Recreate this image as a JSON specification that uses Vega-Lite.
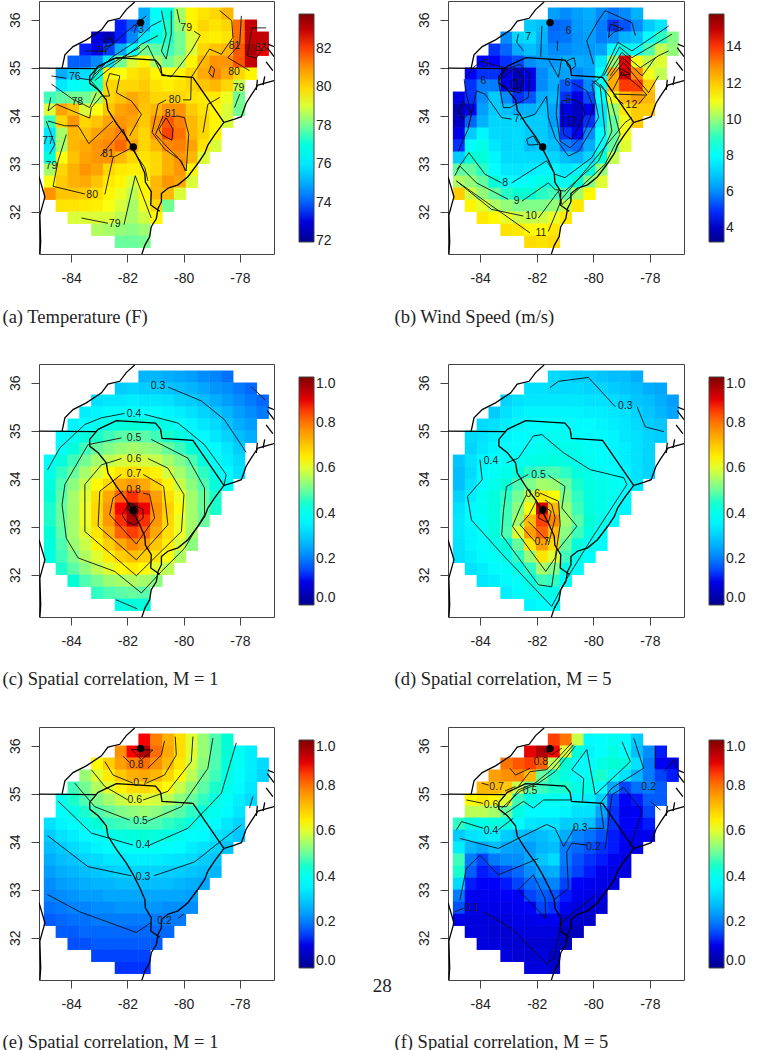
{"$schema":"https://vega.github.io/schema/vega-lite/v6.json","background":"white","padding":{"left":1,"top":0,"right":0,"bottom":0},
"config":{"view":{"stroke":"#444","strokeWidth":1},"axis":{"grid":false,"domain":false,"tickColor":"#444","tickSize":8,"labelColor":"#222","labelFont":"Liberation Sans","labelFontSize":14,"labelPadding":9,"titleFont":"Liberation Serif","titleFontSize":18.5,"titleFontWeight":"normal","titleColor":"#222","titleAlign":"left","titleBaseline":"middle"},"legend":{"labelFont":"Liberation Sans","labelFontSize":14,"labelColor":"#222","gradientStrokeColor":"#444","gradientStrokeWidth":1,"gradientLength":228,"gradientThickness":15,"title":null,"orient":"none","legendY":13,"labelOffset":11,"labelOverlap":false},"text":{"font":"Liberation Sans","fontSize":10.5,"color":"#222"}},
"resolve":{"scale":{"color":"independent"},"legend":{"color":"independent"}},
"datasets":{
"grid":[
{"x":-81.39,"y":36.125,"a":75,"b":6.3,"c":0.27,"d":0.32,"e":0.88,"f":0.85},{"x":-80.97,"y":36.125,"a":76.5,"b":6,"c":0.27,"d":0.31,"e":0.79,"f":0.8},{"x":-80.55,"y":36.125,"a":77,"b":6.3,"c":0.26,"d":0.3,"e":0.73,"f":0.58},{"x":-80.13,"y":36.125,"a":78.5,"b":6.5,"c":0.25,"d":0.3,"e":0.67,"f":0.37},{"x":-79.71,"y":36.125,"a":79.5,"b":6,"c":0.24,"d":0.29,"e":0.6,"f":0.38},{"x":-79.29,"y":36.125,"a":79.8,"b":5.7,"c":0.22,"d":0.28,"e":0.54,"f":0.4},{"x":-78.87,"y":36.125,"a":80,"b":6,"c":0.21,"d":0.28,"e":0.48,"f":0.37},{"x":-78.45,"y":36.125,"a":80.5,"b":6.6,"c":0.19,"d":0.26,"e":0.44,"f":0.3},
{"x":-82.23,"y":35.875,"a":73.5,"b":7,"c":0.3,"d":0.33,"e":0.77,"f":0.9},{"x":-81.81,"y":35.875,"a":74,"b":6.8,"c":0.31,"d":0.33,"e":0.88,"f":0.95},{"x":-81.39,"y":35.875,"a":75,"b":5.5,"c":0.3,"d":0.32,"e":0.95,"f":0.88},{"x":-80.97,"y":35.875,"a":76.5,"b":5.6,"c":0.3,"d":0.32,"e":0.81,"f":0.6},{"x":-80.55,"y":35.875,"a":77.3,"b":6.2,"c":0.29,"d":0.32,"e":0.74,"f":0.43},{"x":-80.13,"y":35.875,"a":78.3,"b":6.4,"c":0.28,"d":0.31,"e":0.67,"f":0.36},{"x":-79.71,"y":35.875,"a":79.5,"b":5.8,"c":0.27,"d":0.31,"e":0.6,"f":0.38},{"x":-79.29,"y":35.875,"a":80,"b":5,"c":0.25,"d":0.3,"e":0.54,"f":0.42},{"x":-78.87,"y":35.875,"a":79.8,"b":5.3,"c":0.23,"d":0.29,"e":0.48,"f":0.38},{"x":-78.45,"y":35.875,"a":80,"b":6,"c":0.22,"d":0.28,"e":0.44,"f":0.28},{"x":-78.03,"y":35.875,"a":81.5,"b":7,"c":0.2,"d":0.26,"e":0.39,"f":0.22},{"x":-77.61,"y":35.875,"a":83,"b":7.5,"c":0.18,"d":0.25,"e":0.35,"f":0.13},
{"x":-83.07,"y":35.625,"a":73,"b":6,"c":0.33,"d":0.31,"e":0.63,"f":0.8},{"x":-82.65,"y":35.625,"a":72.5,"b":7.2,"c":0.34,"d":0.33,"e":0.69,"f":0.83},{"x":-82.23,"y":35.625,"a":73.5,"b":7.3,"c":0.34,"d":0.34,"e":0.75,"f":0.85},{"x":-81.81,"y":35.625,"a":74.5,"b":6.6,"c":0.35,"d":0.34,"e":0.79,"f":0.82},{"x":-81.39,"y":35.625,"a":76,"b":5.6,"c":0.34,"d":0.34,"e":0.81,"f":0.57},{"x":-80.97,"y":35.625,"a":77,"b":5.7,"c":0.34,"d":0.34,"e":0.77,"f":0.44},{"x":-80.55,"y":35.625,"a":77.3,"b":6.1,"c":0.33,"d":0.34,"e":0.72,"f":0.38},{"x":-80.13,"y":35.625,"a":78,"b":6.3,"c":0.31,"d":0.33,"e":0.66,"f":0.37},{"x":-79.71,"y":35.625,"a":79,"b":5.8,"c":0.3,"d":0.33,"e":0.59,"f":0.42},{"x":-79.29,"y":35.625,"a":79.7,"b":6,"c":0.28,"d":0.32,"e":0.53,"f":0.44},{"x":-78.87,"y":35.625,"a":79.6,"b":6.6,"c":0.26,"d":0.31,"e":0.48,"f":0.43},{"x":-78.45,"y":35.625,"a":79.8,"b":6.8,"c":0.24,"d":0.29,"e":0.43,"f":0.33},{"x":-78.03,"y":35.625,"a":81.5,"b":8,"c":0.22,"d":0.28,"e":0.39,"f":0.2},{"x":-77.61,"y":35.625,"a":83,"b":9,"c":0.2,"d":0.26,"e":0.35,"f":0.12},{"x":-77.19,"y":35.625,"a":83,"b":9.8,"c":0.18,"d":0.24,"e":0.32,"f":0.1},
{"x":-83.49,"y":35.375,"a":73.5,"b":5,"c":0.35,"d":0.3,"e":0.54,"f":0.75},{"x":-83.07,"y":35.375,"a":73.3,"b":5.5,"c":0.36,"d":0.33,"e":0.6,"f":0.77},{"x":-82.65,"y":35.375,"a":73.7,"b":6.5,"c":0.38,"d":0.35,"e":0.65,"f":0.78},{"x":-82.23,"y":35.375,"a":75,"b":6.8,"c":0.38,"d":0.36,"e":0.7,"f":0.72},{"x":-81.81,"y":35.375,"a":76.5,"b":6.4,"c":0.39,"d":0.36,"e":0.73,"f":0.5},{"x":-81.39,"y":35.375,"a":78,"b":6,"c":0.38,"d":0.36,"e":0.74,"f":0.45},{"x":-80.97,"y":35.375,"a":77.8,"b":6,"c":0.38,"d":0.36,"e":0.72,"f":0.42},{"x":-80.55,"y":35.375,"a":77.5,"b":6.2,"c":0.36,"d":0.36,"e":0.68,"f":0.38},{"x":-80.13,"y":35.375,"a":78,"b":6.2,"c":0.35,"d":0.35,"e":0.63,"f":0.4},{"x":-79.71,"y":35.375,"a":79,"b":6.3,"c":0.33,"d":0.35,"e":0.57,"f":0.45},{"x":-79.29,"y":35.375,"a":80,"b":8,"c":0.31,"d":0.34,"e":0.51,"f":0.4},{"x":-78.87,"y":35.375,"a":80.3,"b":8.5,"c":0.29,"d":0.33,"e":0.47,"f":0.33},{"x":-78.45,"y":35.375,"a":80.5,"b":8,"c":0.27,"d":0.31,"e":0.42,"f":0.27},{"x":-78.03,"y":35.375,"a":81.8,"b":9.3,"c":0.24,"d":0.29,"e":0.38,"f":0.2},{"x":-77.61,"y":35.375,"a":83.3,"b":10.5,"c":0.22,"d":0.27,"e":0.35,"f":0.15},{"x":-77.19,"y":35.375,"a":82.5,"b":10,"c":0.2,"d":0.25,"e":0.31,"f":0.13},
{"x":-83.91,"y":35.125,"a":74,"b":4.8,"c":0.36,"d":0.32,"e":0.47,"f":0.72},{"x":-83.49,"y":35.125,"a":74,"b":4.8,"c":0.38,"d":0.33,"e":0.51,"f":0.72},{"x":-83.07,"y":35.125,"a":74.5,"b":5,"c":0.4,"d":0.35,"e":0.56,"f":0.7},{"x":-82.65,"y":35.125,"a":76,"b":5.2,"c":0.42,"d":0.36,"e":0.6,"f":0.58},{"x":-82.23,"y":35.125,"a":78,"b":6,"c":0.43,"d":0.37,"e":0.64,"f":0.5},{"x":-81.81,"y":35.125,"a":79,"b":6.3,"c":0.44,"d":0.38,"e":0.67,"f":0.47},{"x":-81.39,"y":35.125,"a":79.5,"b":6.2,"c":0.43,"d":0.38,"e":0.68,"f":0.45},{"x":-80.97,"y":35.125,"a":78.5,"b":6.5,"c":0.42,"d":0.38,"e":0.66,"f":0.45},{"x":-80.55,"y":35.125,"a":78,"b":6.5,"c":0.41,"d":0.37,"e":0.63,"f":0.42},{"x":-80.13,"y":35.125,"a":78.5,"b":6.4,"c":0.39,"d":0.37,"e":0.58,"f":0.42},{"x":-79.71,"y":35.125,"a":79.5,"b":7.5,"c":0.36,"d":0.36,"e":0.53,"f":0.38},{"x":-79.29,"y":35.125,"a":80.5,"b":10,"c":0.34,"d":0.35,"e":0.49,"f":0.25},{"x":-78.87,"y":35.125,"a":81,"b":14.5,"c":0.32,"d":0.34,"e":0.45,"f":0.15},{"x":-78.45,"y":35.125,"a":81,"b":11,"c":0.29,"d":0.32,"e":0.41,"f":0.19},{"x":-78.03,"y":35.125,"a":81.8,"b":10.5,"c":0.26,"d":0.3,"e":0.37,"f":0.2},{"x":-77.61,"y":35.125,"a":83,"b":10.8,"c":0.24,"d":0.29,"e":0.34,"f":0.17},
{"x":-84.33,"y":34.875,"a":75,"b":4.8,"c":0.37,"d":0.32,"e":0.4,"f":0.63},{"x":-83.91,"y":34.875,"a":75.5,"b":5,"c":0.4,"d":0.33,"e":0.45,"f":0.65},{"x":-83.49,"y":34.875,"a":75.8,"b":5,"c":0.43,"d":0.35,"e":0.48,"f":0.63},{"x":-83.07,"y":34.875,"a":77,"b":4.5,"c":0.45,"d":0.36,"e":0.52,"f":0.6},{"x":-82.65,"y":34.875,"a":79.5,"b":3.8,"c":0.47,"d":0.37,"e":0.55,"f":0.47},{"x":-82.23,"y":34.875,"a":79.3,"b":4.5,"c":0.49,"d":0.38,"e":0.58,"f":0.42},{"x":-81.81,"y":34.875,"a":79.8,"b":6,"c":0.49,"d":0.39,"e":0.6,"f":0.4},{"x":-81.39,"y":34.875,"a":80,"b":6.5,"c":0.49,"d":0.4,"e":0.6,"f":0.4},{"x":-80.97,"y":34.875,"a":79.5,"b":6.3,"c":0.47,"d":0.4,"e":0.59,"f":0.38},{"x":-80.55,"y":34.875,"a":79.3,"b":6,"c":0.45,"d":0.39,"e":0.57,"f":0.36},{"x":-80.13,"y":34.875,"a":79.5,"b":6.3,"c":0.43,"d":0.38,"e":0.53,"f":0.35},{"x":-79.71,"y":34.875,"a":80,"b":8,"c":0.4,"d":0.37,"e":0.5,"f":0.3},{"x":-79.29,"y":34.875,"a":80.7,"b":12.5,"c":0.37,"d":0.36,"e":0.46,"f":0.15},{"x":-78.87,"y":34.875,"a":81.2,"b":14.8,"c":0.34,"d":0.34,"e":0.42,"f":0.12},{"x":-78.45,"y":34.875,"a":80.7,"b":13,"c":0.31,"d":0.33,"e":0.39,"f":0.13},{"x":-78.03,"y":34.875,"a":80,"b":11,"c":0.28,"d":0.31,"e":0.35,"f":0.17},{"x":-77.61,"y":34.875,"a":79.5,"b":10.5,"c":0.26,"d":0.3,"e":0.32,"f":0.17},
{"x":-84.33,"y":34.625,"a":76,"b":5,"c":0.39,"d":0.31,"e":0.38,"f":0.57},{"x":-83.91,"y":34.625,"a":76.5,"b":5.8,"c":0.43,"d":0.34,"e":0.41,"f":0.57},{"x":-83.49,"y":34.625,"a":76.8,"b":5.8,"c":0.47,"d":0.36,"e":0.45,"f":0.55},{"x":-83.07,"y":34.625,"a":77.3,"b":4.7,"c":0.5,"d":0.37,"e":0.48,"f":0.5},{"x":-82.65,"y":34.625,"a":80,"b":3.8,"c":0.52,"d":0.38,"e":0.5,"f":0.42},{"x":-82.23,"y":34.625,"a":80,"b":4.5,"c":0.54,"d":0.39,"e":0.52,"f":0.37},{"x":-81.81,"y":34.625,"a":80,"b":6,"c":0.55,"d":0.4,"e":0.53,"f":0.37},{"x":-81.39,"y":34.625,"a":80.2,"b":6.5,"c":0.54,"d":0.41,"e":0.54,"f":0.37},{"x":-80.97,"y":34.625,"a":79.8,"b":5.4,"c":0.53,"d":0.41,"e":0.53,"f":0.36},{"x":-80.55,"y":34.625,"a":79.6,"b":5,"c":0.5,"d":0.41,"e":0.51,"f":0.33},{"x":-80.13,"y":34.625,"a":79.8,"b":6,"c":0.47,"d":0.39,"e":0.49,"f":0.33},{"x":-79.71,"y":34.625,"a":80,"b":8.2,"c":0.44,"d":0.38,"e":0.46,"f":0.25},{"x":-79.29,"y":34.625,"a":80.3,"b":12.5,"c":0.4,"d":0.36,"e":0.43,"f":0.14},{"x":-78.87,"y":34.625,"a":80.5,"b":14,"c":0.37,"d":0.35,"e":0.4,"f":0.11},{"x":-78.45,"y":34.625,"a":80,"b":14,"c":0.34,"d":0.33,"e":0.37,"f":0.12},{"x":-78.03,"y":34.625,"a":78.8,"b":12,"c":0.3,"d":0.31,"e":0.34,"f":0.15},
{"x":-84.75,"y":34.375,"a":77.5,"b":4.5,"c":0.39,"d":0.29,"e":0.33,"f":0.46},{"x":-84.33,"y":34.375,"a":77.8,"b":5,"c":0.43,"d":0.33,"e":0.36,"f":0.43},{"x":-83.91,"y":34.375,"a":78,"b":6,"c":0.47,"d":0.36,"e":0.38,"f":0.41},{"x":-83.49,"y":34.375,"a":78,"b":7,"c":0.51,"d":0.38,"e":0.41,"f":0.43},{"x":-83.07,"y":34.375,"a":78.5,"b":6,"c":0.55,"d":0.39,"e":0.44,"f":0.42},{"x":-82.65,"y":34.375,"a":80,"b":5,"c":0.57,"d":0.4,"e":0.46,"f":0.38},{"x":-82.23,"y":34.375,"a":80.3,"b":5.3,"c":0.59,"d":0.41,"e":0.47,"f":0.34},{"x":-81.81,"y":34.375,"a":80.7,"b":6.5,"c":0.6,"d":0.42,"e":0.48,"f":0.33},{"x":-81.39,"y":34.375,"a":80.4,"b":6.7,"c":0.59,"d":0.43,"e":0.48,"f":0.33},{"x":-80.97,"y":34.375,"a":80,"b":5,"c":0.58,"d":0.42,"e":0.48,"f":0.3},{"x":-80.55,"y":34.375,"a":80,"b":4.4,"c":0.55,"d":0.41,"e":0.46,"f":0.3},{"x":-80.13,"y":34.375,"a":80,"b":5.2,"c":0.52,"d":0.4,"e":0.45,"f":0.28},{"x":-79.71,"y":34.375,"a":79.8,"b":8,"c":0.48,"d":0.38,"e":0.42,"f":0.2},{"x":-79.29,"y":34.375,"a":79.7,"b":11,"c":0.43,"d":0.37,"e":0.39,"f":0.14},{"x":-78.87,"y":34.375,"a":79.7,"b":12.3,"c":0.39,"d":0.35,"e":0.37,"f":0.12},{"x":-78.45,"y":34.375,"a":79.2,"b":12.7,"c":0.35,"d":0.33,"e":0.34,"f":0.12},{"x":-78.03,"y":34.375,"a":78,"b":12.3,"c":0.32,"d":0.31,"e":0.31,"f":0.13},
{"x":-84.75,"y":34.125,"a":79,"b":3.8,"c":0.41,"d":0.28,"e":0.3,"f":0.3},{"x":-84.33,"y":34.125,"a":80.8,"b":4.8,"c":0.46,"d":0.32,"e":0.33,"f":0.33},{"x":-83.91,"y":34.125,"a":80.3,"b":6.3,"c":0.5,"d":0.37,"e":0.35,"f":0.34},{"x":-83.49,"y":34.125,"a":79,"b":7,"c":0.55,"d":0.39,"e":0.37,"f":0.35},{"x":-83.07,"y":34.125,"a":79.3,"b":6.8,"c":0.59,"d":0.41,"e":0.39,"f":0.3},{"x":-82.65,"y":34.125,"a":80.3,"b":6.5,"c":0.63,"d":0.43,"e":0.41,"f":0.28},{"x":-82.23,"y":34.125,"a":80.8,"b":6.6,"c":0.66,"d":0.46,"e":0.42,"f":0.27},{"x":-81.81,"y":34.125,"a":81,"b":6.9,"c":0.67,"d":0.47,"e":0.43,"f":0.28},{"x":-81.39,"y":34.125,"a":80.3,"b":6.4,"c":0.66,"d":0.48,"e":0.44,"f":0.3},{"x":-80.97,"y":34.125,"a":80.5,"b":4.5,"c":0.64,"d":0.46,"e":0.43,"f":0.26},{"x":-80.55,"y":34.125,"a":81,"b":4,"c":0.59,"d":0.43,"e":0.42,"f":0.21},{"x":-80.13,"y":34.125,"a":81,"b":4.6,"c":0.55,"d":0.41,"e":0.4,"f":0.19},{"x":-79.71,"y":34.125,"a":80.2,"b":7.5,"c":0.51,"d":0.4,"e":0.38,"f":0.16},{"x":-79.29,"y":34.125,"a":79.8,"b":10,"c":0.46,"d":0.38,"e":0.37,"f":0.13},{"x":-78.87,"y":34.125,"a":79.5,"b":11.5,"c":0.41,"d":0.36,"e":0.34,"f":0.12},{"x":-78.45,"y":34.125,"a":79,"b":12,"c":0.37,"d":0.33,"e":0.32,"f":0.11},{"x":-78.03,"y":34.125,"a":78,"b":12,"c":0.33,"d":0.31,"e":0.29,"f":0.11},
{"x":-84.75,"y":33.875,"a":77.5,"b":4,"c":0.43,"d":0.28,"e":0.28,"f":0.35},{"x":-84.33,"y":33.875,"a":80,"b":5.5,"c":0.48,"d":0.33,"e":0.3,"f":0.27},{"x":-83.91,"y":33.875,"a":81,"b":6.6,"c":0.53,"d":0.38,"e":0.32,"f":0.25},{"x":-83.49,"y":33.875,"a":80,"b":7.2,"c":0.58,"d":0.41,"e":0.34,"f":0.28},{"x":-83.07,"y":33.875,"a":80.3,"b":7.2,"c":0.63,"d":0.44,"e":0.36,"f":0.25},{"x":-82.65,"y":33.875,"a":80.8,"b":7.2,"c":0.68,"d":0.48,"e":0.37,"f":0.24},{"x":-82.23,"y":33.875,"a":81,"b":7,"c":0.74,"d":0.52,"e":0.38,"f":0.24},{"x":-81.81,"y":33.875,"a":80.8,"b":7,"c":0.76,"d":0.55,"e":0.39,"f":0.27},{"x":-81.39,"y":33.875,"a":80.2,"b":6.3,"c":0.74,"d":0.54,"e":0.39,"f":0.28},{"x":-80.97,"y":33.875,"a":81,"b":4.5,"c":0.69,"d":0.5,"e":0.39,"f":0.2},{"x":-80.55,"y":33.875,"a":81.8,"b":4,"c":0.64,"d":0.45,"e":0.38,"f":0.18},{"x":-80.13,"y":33.875,"a":81.3,"b":5,"c":0.58,"d":0.42,"e":0.37,"f":0.16},{"x":-79.71,"y":33.875,"a":80.5,"b":7.5,"c":0.53,"d":0.41,"e":0.35,"f":0.14},{"x":-79.29,"y":33.875,"a":80,"b":9.5,"c":0.48,"d":0.4,"e":0.33,"f":0.13},{"x":-78.87,"y":33.875,"a":79.5,"b":11,"c":0.43,"d":0.38,"e":0.31,"f":0.11},{"x":-78.45,"y":33.875,"a":79,"b":12,"c":0.39,"d":0.34,"e":0.29,"f":0.1},
{"x":-84.75,"y":33.625,"a":76,"b":4.5,"c":0.44,"d":0.31,"e":0.26,"f":0.47},{"x":-84.33,"y":33.625,"a":78.5,"b":7,"c":0.49,"d":0.35,"e":0.28,"f":0.2},{"x":-83.91,"y":33.625,"a":80.5,"b":7.8,"c":0.55,"d":0.4,"e":0.29,"f":0.15},{"x":-83.49,"y":33.625,"a":80.4,"b":7.3,"c":0.6,"d":0.43,"e":0.31,"f":0.2},{"x":-83.07,"y":33.625,"a":80.8,"b":7.2,"c":0.67,"d":0.46,"e":0.32,"f":0.22},{"x":-82.65,"y":33.625,"a":81,"b":7.3,"c":0.74,"d":0.51,"e":0.34,"f":0.22},{"x":-82.23,"y":33.625,"a":81.3,"b":7,"c":0.82,"d":0.58,"e":0.34,"f":0.25},{"x":-81.81,"y":33.625,"a":80.5,"b":7,"c":0.86,"d":0.66,"e":0.35,"f":0.29},{"x":-81.39,"y":33.625,"a":80,"b":6.6,"c":0.82,"d":0.63,"e":0.35,"f":0.32},{"x":-80.97,"y":33.625,"a":81,"b":5,"c":0.75,"d":0.52,"e":0.35,"f":0.2},{"x":-80.55,"y":33.625,"a":82,"b":4.6,"c":0.67,"d":0.46,"e":0.34,"f":0.16},{"x":-80.13,"y":33.625,"a":81.5,"b":6,"c":0.61,"d":0.43,"e":0.33,"f":0.14},{"x":-79.71,"y":33.625,"a":80.5,"b":8,"c":0.55,"d":0.41,"e":0.32,"f":0.13},{"x":-79.29,"y":33.625,"a":80,"b":9.5,"c":0.5,"d":0.4,"e":0.3,"f":0.11},{"x":-78.87,"y":33.625,"a":79.5,"b":11,"c":0.45,"d":0.37,"e":0.29,"f":0.1},
{"x":-84.75,"y":33.375,"a":76,"b":5,"c":0.45,"d":0.33,"e":0.24,"f":0.45},{"x":-84.33,"y":33.375,"a":78.5,"b":8,"c":0.5,"d":0.37,"e":0.26,"f":0.17},{"x":-83.91,"y":33.375,"a":80.5,"b":8.5,"c":0.55,"d":0.4,"e":0.27,"f":0.13},{"x":-83.49,"y":33.375,"a":80.7,"b":7.5,"c":0.61,"d":0.43,"e":0.28,"f":0.14},{"x":-83.07,"y":33.375,"a":81,"b":7.2,"c":0.68,"d":0.47,"e":0.29,"f":0.16},{"x":-82.65,"y":33.375,"a":81.2,"b":7.3,"c":0.76,"d":0.53,"e":0.3,"f":0.18},{"x":-82.23,"y":33.375,"a":81.6,"b":6.8,"c":0.88,"d":0.62,"e":0.31,"f":0.22},{"x":-81.81,"y":33.375,"a":80.8,"b":7,"c":0.98,"d":0.92,"e":0.31,"f":0.25},{"x":-81.39,"y":33.375,"a":80,"b":6.8,"c":0.89,"d":0.72,"e":0.31,"f":0.26},{"x":-80.97,"y":33.375,"a":80.5,"b":5.8,"c":0.77,"d":0.54,"e":0.31,"f":0.18},{"x":-80.55,"y":33.375,"a":81.2,"b":5.5,"c":0.69,"d":0.47,"e":0.3,"f":0.15},{"x":-80.13,"y":33.375,"a":81.3,"b":6.5,"c":0.62,"d":0.43,"e":0.3,"f":0.13},{"x":-79.71,"y":33.375,"a":80.8,"b":8,"c":0.55,"d":0.41,"e":0.29,"f":0.11},{"x":-79.29,"y":33.375,"a":79.8,"b":9.5,"c":0.5,"d":0.39,"e":0.28,"f":0.1},{"x":-78.87,"y":33.375,"a":79,"b":10.8,"c":0.45,"d":0.36,"e":0.27,"f":0.09},
{"x":-84.75,"y":33.125,"a":77,"b":7,"c":0.45,"d":0.34,"e":0.22,"f":0.32},{"x":-84.33,"y":33.125,"a":79.3,"b":8.8,"c":0.5,"d":0.37,"e":0.24,"f":0.13},{"x":-83.91,"y":33.125,"a":80.3,"b":8.7,"c":0.55,"d":0.39,"e":0.25,"f":0.12},{"x":-83.49,"y":33.125,"a":80.8,"b":7.8,"c":0.61,"d":0.43,"e":0.26,"f":0.12},{"x":-83.07,"y":33.125,"a":81,"b":7.3,"c":0.68,"d":0.47,"e":0.27,"f":0.13},{"x":-82.65,"y":33.125,"a":81,"b":7.3,"c":0.76,"d":0.55,"e":0.27,"f":0.15},{"x":-82.23,"y":33.125,"a":80.5,"b":7.3,"c":0.86,"d":0.72,"e":0.28,"f":0.18},{"x":-81.81,"y":33.125,"a":80,"b":7.3,"c":0.95,"d":0.85,"e":0.28,"f":0.2},{"x":-81.39,"y":33.125,"a":79.8,"b":7.2,"c":0.86,"d":0.78,"e":0.28,"f":0.21},{"x":-80.97,"y":33.125,"a":80,"b":6.8,"c":0.76,"d":0.55,"e":0.28,"f":0.15},{"x":-80.55,"y":33.125,"a":80.6,"b":6.6,"c":0.68,"d":0.49,"e":0.28,"f":0.12},{"x":-80.13,"y":33.125,"a":81,"b":7.2,"c":0.61,"d":0.44,"e":0.27,"f":0.11},{"x":-79.71,"y":33.125,"a":80.5,"b":8.8,"c":0.55,"d":0.41,"e":0.26,"f":0.1},{"x":-79.29,"y":33.125,"a":79,"b":10.5,"c":0.5,"d":0.38,"e":0.25,"f":0.09},
{"x":-84.75,"y":32.875,"a":78.5,"b":9.5,"c":0.44,"d":0.34,"e":0.21,"f":0.2},{"x":-84.33,"y":32.875,"a":80,"b":9.5,"c":0.49,"d":0.36,"e":0.22,"f":0.11},{"x":-83.91,"y":32.875,"a":80.6,"b":9,"c":0.55,"d":0.39,"e":0.23,"f":0.11},{"x":-83.49,"y":32.875,"a":81,"b":8,"c":0.6,"d":0.43,"e":0.24,"f":0.11},{"x":-83.07,"y":32.875,"a":80.8,"b":7.5,"c":0.66,"d":0.48,"e":0.24,"f":0.12},{"x":-82.65,"y":32.875,"a":80,"b":7.5,"c":0.73,"d":0.6,"e":0.25,"f":0.12},{"x":-82.23,"y":32.875,"a":79.7,"b":7.6,"c":0.82,"d":0.75,"e":0.25,"f":0.15},{"x":-81.81,"y":32.875,"a":79.6,"b":7.8,"c":0.85,"d":0.82,"e":0.25,"f":0.17},{"x":-81.39,"y":32.875,"a":79.7,"b":7.8,"c":0.82,"d":0.72,"e":0.25,"f":0.16},{"x":-80.97,"y":32.875,"a":80,"b":7.5,"c":0.74,"d":0.53,"e":0.25,"f":0.13},{"x":-80.55,"y":32.875,"a":80.6,"b":7.8,"c":0.67,"d":0.47,"e":0.25,"f":0.11},{"x":-80.13,"y":32.875,"a":81,"b":8.6,"c":0.61,"d":0.42,"e":0.25,"f":0.1},{"x":-79.71,"y":32.875,"a":79.5,"b":10,"c":0.55,"d":0.39,"e":0.24,"f":0.09},
{"x":-84.75,"y":32.625,"a":79.3,"b":10.3,"c":0.43,"d":0.33,"e":0.19,"f":0.16},{"x":-84.33,"y":32.625,"a":80.2,"b":10,"c":0.48,"d":0.36,"e":0.2,"f":0.1},{"x":-83.91,"y":32.625,"a":80.6,"b":9.5,"c":0.54,"d":0.38,"e":0.21,"f":0.1},{"x":-83.49,"y":32.625,"a":80.7,"b":8.7,"c":0.58,"d":0.41,"e":0.21,"f":0.1},{"x":-83.07,"y":32.625,"a":80.3,"b":8,"c":0.64,"d":0.44,"e":0.22,"f":0.1},{"x":-82.65,"y":32.625,"a":79.7,"b":8,"c":0.69,"d":0.5,"e":0.22,"f":0.11},{"x":-82.23,"y":32.625,"a":79.5,"b":8.2,"c":0.74,"d":0.66,"e":0.23,"f":0.12},{"x":-81.81,"y":32.625,"a":79,"b":8.5,"c":0.78,"d":0.75,"e":0.23,"f":0.15},{"x":-81.39,"y":32.625,"a":79.5,"b":8.4,"c":0.75,"d":0.68,"e":0.23,"f":0.14},{"x":-80.97,"y":32.625,"a":80.5,"b":8.2,"c":0.7,"d":0.5,"e":0.23,"f":0.11},{"x":-80.55,"y":32.625,"a":81,"b":8.8,"c":0.65,"d":0.43,"e":0.22,"f":0.09},{"x":-80.13,"y":32.625,"a":80.8,"b":9.8,"c":0.59,"d":0.4,"e":0.22,"f":0.08},{"x":-79.71,"y":32.625,"a":79,"b":10.8,"c":0.53,"d":0.38,"e":0.22,"f":0.08},
{"x":-84.75,"y":32.375,"a":81,"b":12,"c":0.42,"d":0.33,"e":0.17,"f":0.1},{"x":-84.33,"y":32.375,"a":80.3,"b":10.6,"c":0.47,"d":0.35,"e":0.18,"f":0.09},{"x":-83.91,"y":32.375,"a":80.3,"b":10,"c":0.52,"d":0.37,"e":0.19,"f":0.09},{"x":-83.49,"y":32.375,"a":80.2,"b":9.5,"c":0.56,"d":0.39,"e":0.19,"f":0.09},{"x":-83.07,"y":32.375,"a":79.9,"b":9,"c":0.6,"d":0.41,"e":0.2,"f":0.09},{"x":-82.65,"y":32.375,"a":79.5,"b":8.8,"c":0.65,"d":0.46,"e":0.2,"f":0.1},{"x":-82.23,"y":32.375,"a":79.2,"b":8.8,"c":0.69,"d":0.54,"e":0.2,"f":0.1},{"x":-81.81,"y":32.375,"a":78.7,"b":9,"c":0.71,"d":0.66,"e":0.2,"f":0.11},{"x":-81.39,"y":32.375,"a":79.5,"b":9.2,"c":0.69,"d":0.6,"e":0.2,"f":0.11},{"x":-80.97,"y":32.375,"a":80.5,"b":9.4,"c":0.66,"d":0.47,"e":0.2,"f":0.08},{"x":-80.55,"y":32.375,"a":80.5,"b":10.2,"c":0.62,"d":0.41,"e":0.2,"f":0.07},{"x":-80.13,"y":32.375,"a":79,"b":11.2,"c":0.56,"d":0.38,"e":0.2,"f":0.07},
{"x":-84.33,"y":32.125,"a":79.8,"b":11.3,"c":0.45,"d":0.33,"e":0.17,"f":0.09},{"x":-83.91,"y":32.125,"a":79.8,"b":10.8,"c":0.49,"d":0.35,"e":0.17,"f":0.09},{"x":-83.49,"y":32.125,"a":79.7,"b":10.3,"c":0.53,"d":0.37,"e":0.18,"f":0.08},{"x":-83.07,"y":32.125,"a":79.6,"b":10,"c":0.57,"d":0.39,"e":0.18,"f":0.08},{"x":-82.65,"y":32.125,"a":79.3,"b":9.8,"c":0.6,"d":0.42,"e":0.18,"f":0.09},{"x":-82.23,"y":32.125,"a":79,"b":9.8,"c":0.63,"d":0.46,"e":0.18,"f":0.09},{"x":-81.81,"y":32.125,"a":78.5,"b":9.8,"c":0.65,"d":0.55,"e":0.18,"f":0.09},{"x":-81.39,"y":32.125,"a":79.2,"b":10,"c":0.63,"d":0.52,"e":0.18,"f":0.09},{"x":-80.97,"y":32.125,"a":80,"b":10.5,"c":0.6,"d":0.42,"e":0.18,"f":0.06},{"x":-80.55,"y":32.125,"a":78,"b":11.5,"c":0.57,"d":0.38,"e":0.18,"f":0.05},
{"x":-83.91,"y":31.875,"a":79,"b":11.5,"c":0.44,"d":0.34,"e":0.16,"f":0.09},{"x":-83.49,"y":31.875,"a":79,"b":11.2,"c":0.48,"d":0.35,"e":0.16,"f":0.09},{"x":-83.07,"y":31.875,"a":79,"b":10.9,"c":0.51,"d":0.37,"e":0.17,"f":0.08},{"x":-82.65,"y":31.875,"a":79,"b":10.6,"c":0.54,"d":0.39,"e":0.17,"f":0.08},{"x":-82.23,"y":31.875,"a":78.7,"b":10.5,"c":0.55,"d":0.42,"e":0.17,"f":0.08},{"x":-81.81,"y":31.875,"a":78.5,"b":10.6,"c":0.56,"d":0.47,"e":0.17,"f":0.08},{"x":-81.39,"y":31.875,"a":78.9,"b":10.9,"c":0.55,"d":0.46,"e":0.17,"f":0.08},{"x":-80.97,"y":31.875,"a":79.5,"b":11.5,"c":0.53,"d":0.39,"e":0.17,"f":0.05},
{"x":-83.07,"y":31.625,"a":78.6,"b":11.6,"c":0.46,"d":0.35,"e":0.15,"f":0.09},{"x":-82.65,"y":31.625,"a":78.5,"b":11.5,"c":0.48,"d":0.37,"e":0.15,"f":0.08},{"x":-82.23,"y":31.625,"a":78.3,"b":11.2,"c":0.49,"d":0.4,"e":0.15,"f":0.08},{"x":-81.81,"y":31.625,"a":78.2,"b":11.2,"c":0.5,"d":0.42,"e":0.15,"f":0.09},{"x":-81.39,"y":31.625,"a":78.4,"b":11.5,"c":0.49,"d":0.41,"e":0.15,"f":0.06},
{"x":-82.23,"y":31.375,"a":77.9,"b":11.7,"c":0.42,"d":0.36,"e":0.14,"f":0.09},{"x":-81.81,"y":31.375,"a":77.9,"b":11.6,"c":0.43,"d":0.38,"e":0.14,"f":0.09},{"x":-81.39,"y":31.375,"a":78,"b":11.7,"c":0.43,"d":0.38,"e":0.14,"f":0.07}],
"map":[
{"g":1,"x":-85.2,"y":34.99},{"g":1,"x":-83.1,"y":34.98},
{"g":2,"x":-78.57,"y":33.86},{"g":2,"x":-79.67,"y":34.8},{"g":2,"x":-80.77,"y":34.84},{"g":2,"x":-80.82,"y":35.03},{"g":2,"x":-81,"y":35.16},{"g":2,"x":-82.39,"y":35.21},{"g":2,"x":-83.04,"y":35.03},{"g":2,"x":-83.34,"y":34.82},{"g":2,"x":-83.34,"y":34.68},{"g":2,"x":-83.04,"y":34.54},{"g":2,"x":-82.75,"y":34.33},{"g":2,"x":-82.69,"y":34.12},{"g":2,"x":-82.39,"y":33.84},{"g":2,"x":-82.04,"y":33.56},{"g":2,"x":-81.8,"y":33.32},{"g":2,"x":-81.56,"y":33.04},{"g":2,"x":-81.38,"y":32.8},{"g":2,"x":-81.36,"y":32.62},{"g":2,"x":-81.15,"y":32.42},{"g":2,"x":-81.17,"y":32.14},{"g":2,"x":-80.85,"y":32.01},
{"g":3,"x":-76.79,"y":34.73},{"g":3,"x":-77.36,"y":34.64},{"g":3,"x":-77.6,"y":34.43},{"g":3,"x":-77.78,"y":34.26},{"g":3,"x":-77.95,"y":33.98},{"g":3,"x":-78.19,"y":33.93},{"g":3,"x":-78.57,"y":33.86},{"g":3,"x":-78.9,"y":33.6},{"g":3,"x":-79.14,"y":33.39},{"g":3,"x":-79.25,"y":33.22},{"g":3,"x":-79.49,"y":33.01},{"g":3,"x":-79.85,"y":32.73},{"g":3,"x":-80.2,"y":32.56},{"g":3,"x":-80.56,"y":32.49},{"g":3,"x":-80.79,"y":32.38},{"g":3,"x":-80.79,"y":32.21},{"g":3,"x":-80.91,"y":32.07},{"g":3,"x":-80.97,"y":31.86},{"g":3,"x":-81.15,"y":31.69},{"g":3,"x":-81.21,"y":31.48},{"g":3,"x":-81.38,"y":31.3},{"g":3,"x":-81.5,"y":31.09},
{"g":4,"x":-81.74,"y":36.37},{"g":4,"x":-82.04,"y":36.21},{"g":4,"x":-82.27,"y":36.03},{"g":4,"x":-82.69,"y":35.97},{"g":4,"x":-82.92,"y":35.79},{"g":4,"x":-83.46,"y":35.58},{"g":4,"x":-83.93,"y":35.44},{"g":4,"x":-84.22,"y":35.27},{"g":4,"x":-84.32,"y":34.99},
{"g":5,"x":-85.14,"y":32.73},{"g":5,"x":-84.93,"y":32.31},{"g":5,"x":-85.11,"y":31.93},{"g":5,"x":-85.08,"y":31.37},{"g":5,"x":-85.11,"y":31.09},
{"g":6,"x":-77.01,"y":35.49},{"g":6,"x":-76.79,"y":35.44},
{"g":7,"x":-77.03,"y":35.42},{"g":7,"x":-76.79,"y":35.23},
{"g":8,"x":-77.07,"y":35.12},{"g":8,"x":-76.83,"y":34.94},
{"g":9,"x":-77.42,"y":34.54},{"g":9,"x":-77.38,"y":34.75},
{"g":10,"x":-77.18,"y":34.64},{"g":10,"x":-77.12,"y":34.82}],
"la":[
{"g":1,"x":-80.24,"y":36.22},{"g":1,"x":-80.14,"y":35.94},
{"g":2,"x":-79.63,"y":35.76},{"g":2,"x":-79.41,"y":35.68},{"g":2,"x":-79.73,"y":35.35},{"g":2,"x":-80.44,"y":34.81},{"g":2,"x":-80.79,"y":34.87},{"g":2,"x":-81.27,"y":35.46},{"g":2,"x":-81.68,"y":35.25},{"g":2,"x":-82.57,"y":35.18},{"g":2,"x":-83.1,"y":34.97},{"g":2,"x":-83.3,"y":34.73},{"g":2,"x":-82.92,"y":34.48},
{"g":3,"x":-80.79,"y":36.19},{"g":3,"x":-80.62,"y":35.7},{"g":3,"x":-80.79,"y":35.35},{"g":3,"x":-80.62,"y":35.18},{"g":3,"x":-80.44,"y":35.7},{"g":3,"x":-80.44,"y":36.19},
{"g":4,"x":-78.72,"y":36.19},{"g":4,"x":-78.29,"y":35.98},{"g":4,"x":-78.25,"y":35.63},{"g":4,"x":-78.66,"y":35.28},{"g":4,"x":-79.08,"y":35.39},{"g":4,"x":-79.73,"y":34.8},{"g":4,"x":-79.75,"y":34.33},{"g":4,"x":-80.02,"y":34.33},
{"g":5,"x":-80.62,"y":34.33},{"g":5,"x":-80.91,"y":34.24},{"g":5,"x":-81.12,"y":33.65},{"g":5,"x":-80.67,"y":33.3},{"g":5,"x":-80.08,"y":33.06},{"g":5,"x":-79.94,"y":32.85},
{"g":6,"x":-80.73,"y":34},{"g":6,"x":-81,"y":33.61},{"g":6,"x":-80.56,"y":33.33},{"g":6,"x":-80.2,"y":33.13},{"g":6,"x":-79.91,"y":32.85},{"g":6,"x":-79.82,"y":33.61},{"g":6,"x":-79.97,"y":33.96},{"g":6,"x":-80.26,"y":34},
{"g":7,"x":-80.62,"y":33.96},{"g":7,"x":-80.88,"y":33.72},{"g":7,"x":-80.79,"y":33.61},{"g":7,"x":-80.42,"y":33.49},{"g":7,"x":-80.38,"y":33.72},{"g":7,"x":-80.62,"y":33.96},
{"g":8,"x":-84.7,"y":34.66},{"g":8,"x":-83.93,"y":34.34},{"g":8,"x":-83.57,"y":34.24},{"g":8,"x":-83.34,"y":34.17},{"g":8,"x":-83.1,"y":34.48},
{"g":9,"x":-84.7,"y":34.83},{"g":9,"x":-84.17,"y":34.78},{"g":10,"x":-83.69,"y":34.78},{"g":10,"x":-83.28,"y":34.74},{"g":10,"x":-82.92,"y":34.97},{"g":10,"x":-82.21,"y":35.21},{"g":10,"x":-81.56,"y":35.42},
{"g":11,"x":-83.51,"y":35.35},{"g":11,"x":-82.8,"y":35.35},{"g":11,"x":-81.98,"y":35.77},{"g":11,"x":-81.33,"y":36.08},
{"g":12,"x":-83.22,"y":34.83},{"g":12,"x":-82.57,"y":35.21},{"g":12,"x":-81.74,"y":35.53},{"g":12,"x":-81.15,"y":35.87},{"g":12,"x":-80.79,"y":35.98},
{"g":13,"x":-83.16,"y":34.73},{"g":13,"x":-82.45,"y":35.07},{"g":13,"x":-81.5,"y":35.49},{"g":13,"x":-80.91,"y":35.67},
{"g":14,"x":-82.8,"y":35.58},{"g":14,"x":-82.57,"y":35.63},{"g":14,"x":-82.51,"y":35.49},{"g":14,"x":-82.74,"y":35.44},{"g":14,"x":-82.8,"y":35.58},
{"g":15,"x":-84.72,"y":34.38},{"g":15,"x":-84.82,"y":34.1},{"g":15,"x":-84.52,"y":34.24},{"g":15,"x":-83.34,"y":33.95},{"g":15,"x":-83.28,"y":34.17},{"g":15,"x":-82.92,"y":34.41},{"g":15,"x":-82.63,"y":34.41},{"g":15,"x":-82.75,"y":34.66},{"g":15,"x":-82.63,"y":34.88},{"g":15,"x":-82.27,"y":34.83},{"g":15,"x":-82.39,"y":34.48},{"g":15,"x":-81.86,"y":34.31},{"g":15,"x":-81.5,"y":34.03},{"g":15,"x":-81.92,"y":33.58},
{"g":16,"x":-84.82,"y":33.89},{"g":16,"x":-84.22,"y":33.79},{"g":16,"x":-83.75,"y":33.79},{"g":16,"x":-83.37,"y":33.42},{"g":16,"x":-82.51,"y":33.89},
{"g":17,"x":-82.96,"y":33.16},{"g":17,"x":-82.15,"y":33.72},{"g":17,"x":-82,"y":33.47},
{"g":18,"x":-84.17,"y":33.61},{"g":18,"x":-84.46,"y":33.06},{"g":18,"x":-84.64,"y":32.53},{"g":18,"x":-83.51,"y":32.37},
{"g":19,"x":-82.8,"y":32.36},{"g":19,"x":-82.51,"y":33.13},{"g":19,"x":-81.86,"y":33.33},{"g":19,"x":-81.38,"y":32.92},{"g":19,"x":-81.27,"y":32.64},
{"g":20,"x":-83.63,"y":31.87},{"g":20,"x":-82.69,"y":31.76},{"g":21,"x":-82.12,"y":31.73},{"g":21,"x":-81.72,"y":32.75},{"g":21,"x":-81.15,"y":31.87},
{"g":22,"x":-78.43,"y":35.21},{"g":22,"x":-77.66,"y":34.94},
{"g":23,"x":-77.95,"y":36.08},{"g":23,"x":-78.01,"y":35.49},{"g":23,"x":-78.43,"y":35.21},
{"g":24,"x":-77.07,"y":35.83},{"g":24,"x":-77.57,"y":35.83},{"g":24,"x":-77.74,"y":35.25},{"g":24,"x":-77.42,"y":35.2},{"g":24,"x":-77.07,"y":35.53},
{"g":25,"x":-79.02,"y":35.04},{"g":25,"x":-79.11,"y":34.9},{"g":25,"x":-78.96,"y":34.8},{"g":25,"x":-78.9,"y":34.97},{"g":25,"x":-79.02,"y":35.04},
{"g":26,"x":-79.31,"y":33.65},{"g":26,"x":-79.14,"y":34.24},{"g":26,"x":-78.72,"y":34.38},
{"g":27,"x":-78.19,"y":34.17},{"g":27,"x":-78.01,"y":34.45},
{"g":28,"x":-84.88,"y":33.89},{"g":28,"x":-84.58,"y":33.4},{"g":28,"x":-84.76,"y":33.2}],
"ta":[{"x":-79.91,"y":35.83,"t":"79"},{"x":-82.92,"y":35.35,"t":"74"},{"x":-81.62,"y":35.78,"t":"73"},{"x":-83.87,"y":34.8,"t":"76"},{"x":-83.78,"y":34.29,"t":"78"},{"x":-80.32,"y":34.33,"t":"80"},{"x":-80.46,"y":34.03,"t":"81"},{"x":-82.69,"y":33.2,"t":"81"},{"x":-83.25,"y":32.35,"t":"80"},{"x":-82.45,"y":31.75,"t":"79"},{"x":-78.21,"y":34.92,"t":"80"},{"x":-78.19,"y":35.46,"t":"81"},{"x":-77.27,"y":35.42,"t":"83"},{"x":-78.05,"y":34.57,"t":"79"},{"x":-84.82,"y":33.47,"t":"77"},{"x":-84.7,"y":32.95,"t":"79"}],
"lb":[
{"g":1,"x":-82.65,"y":35.7},{"g":1,"x":-82.71,"y":35.53},{"g":1,"x":-82.47,"y":35.35},
{"g":2,"x":-81.82,"y":35.87},{"g":2,"x":-81.86,"y":35.21},
{"g":3,"x":-81.59,"y":35.18},{"g":3,"x":-81.23,"y":34.8},{"g":3,"x":-81.11,"y":35.21},
{"g":4,"x":-81.27,"y":35.56},{"g":4,"x":-81.27,"y":35.35},
{"g":5,"x":-79.99,"y":35.07},{"g":5,"x":-80.23,"y":35.56},{"g":5,"x":-79.87,"y":35.94},{"g":5,"x":-79.58,"y":36.19},{"g":5,"x":-78.63,"y":35.94},{"g":5,"x":-78.51,"y":35.67},
{"g":6,"x":-79.46,"y":35.63},{"g":6,"x":-79.4,"y":35.91},{"g":6,"x":-78.93,"y":35.81},{"g":6,"x":-79.28,"y":35.74},{"g":6,"x":-79.46,"y":35.63},
{"g":7,"x":-80.94,"y":35.14},{"g":7,"x":-80.68,"y":35.21},{"g":7,"x":-80.62,"y":35.04},{"g":7,"x":-80.76,"y":34.97},{"g":7,"x":-80.92,"y":35.04},{"g":7,"x":-80.94,"y":35.14},
{"g":8,"x":-84.49,"y":34.8},{"g":8,"x":-84.25,"y":35},{"g":8,"x":-83.95,"y":35.14},{"g":8,"x":-83.6,"y":35.07},{"g":8,"x":-83.12,"y":35},
{"g":9,"x":-83.36,"y":34.73},{"g":9,"x":-83.07,"y":34.97},{"g":9,"x":-82.59,"y":35.07},{"g":9,"x":-82.24,"y":34.87},{"g":9,"x":-82.3,"y":34.38},{"g":9,"x":-82.95,"y":34.17},{"g":9,"x":-83.18,"y":34.17},{"g":9,"x":-83.36,"y":34.73},
{"g":10,"x":-83.27,"y":34.76},{"g":10,"x":-82.77,"y":35},{"g":10,"x":-82.47,"y":34.8},{"g":10,"x":-82.59,"y":34.48},{"g":10,"x":-83.01,"y":34.52},{"g":10,"x":-83.27,"y":34.76},
{"g":11,"x":-82.92,"y":34.73},{"g":11,"x":-82.71,"y":34.76},{"g":11,"x":-82.67,"y":34.57},{"g":11,"x":-82.89,"y":34.57},{"g":11,"x":-82.92,"y":34.73},
{"g":12,"x":-84.57,"y":34.76},{"g":12,"x":-84.49,"y":34.45},{"g":12,"x":-84.31,"y":34.03},{"g":12,"x":-84.43,"y":33.75},
{"g":13,"x":-84.78,"y":33.26},{"g":13,"x":-84.43,"y":33.72},{"g":13,"x":-84.13,"y":34.52},{"g":13,"x":-83.83,"y":34.45},{"g":13,"x":-83.24,"y":33.96},{"g":13,"x":-82.89,"y":33.93},
{"g":14,"x":-82.59,"y":33.93},{"g":14,"x":-82.06,"y":34.03},{"g":14,"x":-81.65,"y":34.41},{"g":14,"x":-81.59,"y":33.96},{"g":14,"x":-81.35,"y":33.54},{"g":14,"x":-80.88,"y":33.16},{"g":14,"x":-80.52,"y":33.26},{"g":14,"x":-79.81,"y":33.96},{"g":14,"x":-80.05,"y":34.66},{"g":14,"x":-79.69,"y":34.83},
{"g":15,"x":-81.23,"y":34.66},{"g":15,"x":-81.31,"y":34.03},{"g":15,"x":-81.17,"y":33.47},{"g":15,"x":-80.82,"y":33.33},{"g":15,"x":-80.34,"y":33.61},{"g":15,"x":-79.99,"y":34.17},{"g":15,"x":-80.23,"y":34.52},{"g":15,"x":-80.76,"y":34.69},
{"g":16,"x":-81.11,"y":34.31},{"g":16,"x":-81.05,"y":33.61},{"g":16,"x":-80.76,"y":33.51},{"g":16,"x":-80.29,"y":34.03},{"g":16,"x":-80.4,"y":34.24},{"g":16,"x":-80.7,"y":34.34},{"g":16,"x":-81.11,"y":34.31},
{"g":17,"x":-80.9,"y":34},{"g":17,"x":-80.88,"y":33.79},{"g":17,"x":-80.7,"y":33.82},{"g":17,"x":-80.64,"y":33.96},{"g":17,"x":-80.9,"y":34},
{"g":18,"x":-84.82,"y":32.88},{"g":18,"x":-84.4,"y":33.23},{"g":18,"x":-83.83,"y":32.78},{"g":18,"x":-83.24,"y":32.6},
{"g":19,"x":-82.89,"y":32.6},{"g":19,"x":-81.65,"y":33.06},{"g":19,"x":-81.35,"y":32.78},{"g":19,"x":-81,"y":32.71},{"g":19,"x":-80.05,"y":33.13},{"g":19,"x":-79.58,"y":33.61},{"g":19,"x":-79.75,"y":34.59},{"g":19,"x":-80.05,"y":34.73},
{"g":20,"x":-84.9,"y":32.75},{"g":20,"x":-84.72,"y":32.95},{"g":20,"x":-84.13,"y":32.6},{"g":20,"x":-83.01,"y":32.26},
{"g":21,"x":-82.53,"y":32.22},{"g":21,"x":-81.59,"y":32.6},{"g":21,"x":-81.35,"y":32.46},{"g":21,"x":-81,"y":32.43},{"g":21,"x":-79.81,"y":33.06},{"g":21,"x":-79.34,"y":33.68},{"g":21,"x":-79.58,"y":34.52},{"g":21,"x":-79.93,"y":34.73},
{"g":22,"x":-84.84,"y":32.64},{"g":22,"x":-83.6,"y":32.05},{"g":22,"x":-82.47,"y":31.91},{"g":23,"x":-81.94,"y":31.87},{"g":23,"x":-81.23,"y":32.43},{"g":23,"x":-81.11,"y":32.15},{"g":23,"x":-79.58,"y":32.99},{"g":23,"x":-79.05,"y":33.61},{"g":23,"x":-79.4,"y":34.38},{"g":23,"x":-79.75,"y":34.66},
{"g":24,"x":-84.84,"y":32.64},{"g":24,"x":-82.24,"y":31.56},
{"g":25,"x":-81.59,"y":31.59},{"g":25,"x":-81.11,"y":32.27},{"g":25,"x":-78.87,"y":33.86},{"g":25,"x":-78.63,"y":33.96},
{"g":26,"x":-79.69,"y":34.83},{"g":26,"x":-79.13,"y":35.53},{"g":26,"x":-78.63,"y":35.35},{"g":26,"x":-77.33,"y":35.87},
{"g":27,"x":-79.63,"y":34.83},{"g":27,"x":-79.07,"y":35.43},{"g":27,"x":-78.63,"y":35.21},{"g":27,"x":-77.21,"y":35.7},
{"g":28,"x":-79.52,"y":34.83},{"g":28,"x":-78.99,"y":35.32},{"g":28,"x":-78.34,"y":35},{"g":28,"x":-77.69,"y":35.25},{"g":28,"x":-77.33,"y":35.35},
{"g":29,"x":-79.4,"y":34.83},{"g":29,"x":-78.96,"y":35.21},{"g":29,"x":-78.27,"y":34.83},{"g":29,"x":-77.8,"y":35.21},
{"g":30,"x":-79.46,"y":34.73},{"g":30,"x":-78.93,"y":35.11},{"g":30,"x":-78.04,"y":34.48},{"g":30,"x":-77.69,"y":34.83},
{"g":31,"x":-79.32,"y":34.52},{"g":31,"x":-78.99,"y":34.9},{"g":31,"x":-78.34,"y":34.59},{"g":31,"x":-78.1,"y":34.43},{"g":31,"x":-79.28,"y":34.45},
{"g":32,"x":-79.1,"y":35},{"g":32,"x":-78.69,"y":34.87},{"g":32,"x":-78.99,"y":34.83},{"g":32,"x":-79.1,"y":35},
{"g":33,"x":-79.28,"y":34.41},{"g":33,"x":-78.93,"y":34.24},{"g":34,"x":-78.4,"y":34.24},{"g":34,"x":-78.16,"y":34.41},
{"g":35,"x":-84.6,"y":34.31},{"g":35,"x":-84.78,"y":34.1},{"g":35,"x":-84.6,"y":33.93},{"g":35,"x":-84.37,"y":34.07},{"g":35,"x":-84.6,"y":34.31},
{"g":36,"x":-82.36,"y":33.51},{"g":36,"x":-82.12,"y":33.58},{"g":36,"x":-81.94,"y":33.4},{"g":36,"x":-82.3,"y":33.39},{"g":36,"x":-82.36,"y":33.51}],
"tb":[{"x":-83.78,"y":35.07,"t":"5"},{"x":-82.3,"y":35.64,"t":"7"},{"x":-80.88,"y":35.76,"t":"6"},{"x":-79.2,"y":35.85,"t":"5"},{"x":-83.89,"y":34.73,"t":"6"},{"x":-82.71,"y":33.93,"t":"7"},{"x":-80.91,"y":34.69,"t":"6"},{"x":-80.88,"y":34.32,"t":"5"},{"x":-78.65,"y":34.22,"t":"12"},{"x":-83.12,"y":32.59,"t":"8"},{"x":-82.71,"y":32.23,"t":"9"},{"x":-82.2,"y":31.91,"t":"10"},{"x":-81.85,"y":31.56,"t":"11"}],
"lc":[
{"g":1,"x":-80.56,"y":35.91},{"g":1,"x":-79.37,"y":35.62},{"g":1,"x":-78.55,"y":35.23},{"g":1,"x":-77.78,"y":34.55},
{"g":2,"x":-77.6,"y":35.92},{"g":2,"x":-77.1,"y":35.64},
{"g":3,"x":-82.41,"y":31.48},{"g":3,"x":-81.65,"y":31.29},
{"g":4,"x":-84.84,"y":34.18},{"g":4,"x":-84.4,"y":34.64},{"g":4,"x":-83.51,"y":35.13},{"g":4,"x":-82.92,"y":35.27},{"g":4,"x":-82.1,"y":35.36},
{"g":5,"x":-81.39,"y":35.34},{"g":5,"x":-80.2,"y":35.16},{"g":5,"x":-79.26,"y":34.71},{"g":5,"x":-78.49,"y":34.09},{"g":5,"x":-78.57,"y":33.84},
{"g":6,"x":-82.21,"y":34.85},{"g":6,"x":-83.4,"y":34.71},{"g":6,"x":-84.22,"y":33.88},{"g":6,"x":-84.32,"y":33.46},{"g":6,"x":-84.17,"y":32.76},{"g":6,"x":-83.75,"y":32.35},{"g":6,"x":-82.45,"y":32.07},{"g":6,"x":-81.5,"y":31.62},{"g":6,"x":-80.79,"y":32.07},{"g":6,"x":-79.97,"y":32.55},{"g":6,"x":-79.26,"y":33.25},{"g":6,"x":-79.26,"y":33.81},{"g":6,"x":-79.85,"y":34.43},{"g":6,"x":-81.15,"y":34.82},
{"g":7,"x":-82.21,"y":34.42},{"g":7,"x":-82.92,"y":34.29},{"g":7,"x":-83.51,"y":33.88},{"g":7,"x":-83.51,"y":32.9},{"g":7,"x":-81.68,"y":31.98},{"g":7,"x":-80.08,"y":32.9},{"g":7,"x":-79.99,"y":33.67},{"g":7,"x":-80.56,"y":34.22},{"g":7,"x":-81.27,"y":34.42},
{"g":8,"x":-82.21,"y":34.09},{"g":8,"x":-82.98,"y":33.74},{"g":8,"x":-83.04,"y":33.01},{"g":8,"x":-81.68,"y":32.31},{"g":8,"x":-80.56,"y":33.04},{"g":8,"x":-80.71,"y":33.84},{"g":8,"x":-81.44,"y":34.09},
{"g":9,"x":-82.15,"y":33.74},{"g":9,"x":-82.51,"y":33.6},{"g":9,"x":-82.63,"y":33.25},{"g":9,"x":-81.68,"y":32.64},{"g":9,"x":-81.03,"y":33.18},{"g":9,"x":-81.21,"y":33.67},{"g":9,"x":-81.44,"y":33.7},
{"g":10,"x":-82.19,"y":33.25},{"g":10,"x":-81.92,"y":33.5},{"g":10,"x":-81.44,"y":33.36},{"g":10,"x":-81.44,"y":33.18},{"g":10,"x":-81.74,"y":33.04},{"g":10,"x":-82.04,"y":33.11},{"g":10,"x":-82.19,"y":33.25},
{"g":11,"x":-82,"y":33.39},{"g":11,"x":-81.8,"y":33.47},{"g":11,"x":-81.6,"y":33.33},{"g":11,"x":-81.8,"y":33.22},{"g":11,"x":-82,"y":33.39}],
"tc":[{"x":-80.91,"y":35.93,"t":"0.3"},{"x":-81.76,"y":35.35,"t":"0.4"},{"x":-81.76,"y":34.85,"t":"0.5"},{"x":-81.76,"y":34.42,"t":"0.6"},{"x":-81.76,"y":34.1,"t":"0.7"},{"x":-81.78,"y":33.77,"t":"0.8"}],
"ld":[
{"g":1,"x":-81.53,"y":35.9},{"g":1,"x":-81.23,"y":36.03},{"g":1,"x":-80.17,"y":36.11},{"g":1,"x":-79.22,"y":35.5},
{"g":2,"x":-78.45,"y":35.5},{"g":2,"x":-78.16,"y":35.08},{"g":2,"x":-77.5,"y":34.98},
{"g":3,"x":-84.01,"y":34.4},{"g":3,"x":-83.93,"y":33.98},{"g":3,"x":-84.45,"y":33.63},{"g":3,"x":-84.31,"y":33.14},{"g":3,"x":-83.24,"y":32.44},{"g":3,"x":-81.47,"y":31.34},{"g":3,"x":-81,"y":31.86},{"g":3,"x":-80.05,"y":32.76},{"g":3,"x":-78.81,"y":33.88},{"g":3,"x":-78.92,"y":34.02},{"g":3,"x":-80.11,"y":34.19},{"g":3,"x":-81.05,"y":34.54},{"g":3,"x":-81.82,"y":34.92},{"g":3,"x":-82.12,"y":34.89},{"g":3,"x":-82.65,"y":34.43},{"g":3,"x":-83.07,"y":34.33},
{"g":4,"x":-82.3,"y":34.09},{"g":4,"x":-83.07,"y":33.84},{"g":4,"x":-83.18,"y":33.32},{"g":4,"x":-83.24,"y":32.83},{"g":4,"x":-81.94,"y":31.79},{"g":4,"x":-81.47,"y":31.75},{"g":4,"x":-81.29,"y":32.49},{"g":4,"x":-80.58,"y":33.01},{"g":4,"x":-81.11,"y":33.39},{"g":4,"x":-81,"y":33.84},{"g":4,"x":-81.59,"y":34.07},
{"g":5,"x":-82.36,"y":33.67},{"g":5,"x":-82.59,"y":33.39},{"g":5,"x":-82.86,"y":33.01},{"g":5,"x":-81.68,"y":32.07},{"g":5,"x":-81.35,"y":32.35},{"g":5,"x":-81.17,"y":33.04},{"g":5,"x":-81.23,"y":33.53},{"g":5,"x":-81.88,"y":33.7},
{"g":6,"x":-82,"y":33.56},{"g":6,"x":-82.27,"y":33.25},{"g":6,"x":-82.59,"y":33.04},{"g":6,"x":-82.06,"y":32.69},
{"g":7,"x":-81.59,"y":32.62},{"g":7,"x":-81.35,"y":33.18},{"g":7,"x":-81.47,"y":33.46},{"g":7,"x":-81.71,"y":33.56},
{"g":8,"x":-82.3,"y":33.11},{"g":8,"x":-81.59,"y":32.69},
{"g":9,"x":-81.88,"y":33.39},{"g":9,"x":-81.94,"y":33.18},{"g":9,"x":-81.59,"y":33.08},{"g":9,"x":-81.49,"y":33.32},{"g":9,"x":-81.76,"y":33.43},{"g":9,"x":-81.88,"y":33.39}],
"td":[{"x":-78.87,"y":35.51,"t":"0.3"},{"x":-83.62,"y":34.36,"t":"0.4"},{"x":-81.94,"y":34.07,"t":"0.5"},{"x":-82.14,"y":33.68,"t":"0.6"},{"x":-81.82,"y":32.69,"t":"0.7"}],
"le":[
{"g":1,"x":-81.86,"y":35.92},{"g":1,"x":-81.5,"y":35.71},{"g":1,"x":-81.09,"y":35.91},{"g":1,"x":-81.86,"y":35.92},
{"g":2,"x":-82.15,"y":35.78},{"g":2,"x":-81.92,"y":35.65},
{"g":3,"x":-81.27,"y":35.53},{"g":3,"x":-80.79,"y":35.81},{"g":3,"x":-80.68,"y":36.1},
{"g":4,"x":-82.8,"y":35.67},{"g":4,"x":-82.51,"y":35.39},{"g":4,"x":-81.8,"y":35.22},
{"g":5,"x":-81.33,"y":35.22},{"g":5,"x":-80.68,"y":35.39},{"g":5,"x":-80.26,"y":35.81},{"g":5,"x":-80.3,"y":36.19},
{"g":6,"x":-83.28,"y":35.5},{"g":6,"x":-82.8,"y":35.15},{"g":6,"x":-81.98,"y":34.87},
{"g":7,"x":-81.44,"y":34.87},{"g":7,"x":-80.56,"y":35.05},{"g":7,"x":-79.73,"y":35.67},{"g":7,"x":-79.67,"y":36.19},
{"g":8,"x":-83.87,"y":35.22},{"g":8,"x":-83.16,"y":34.73},{"g":8,"x":-81.92,"y":34.45},
{"g":9,"x":-81.27,"y":34.43},{"g":9,"x":-80.08,"y":34.73},{"g":9,"x":-79.14,"y":35.53},{"g":9,"x":-78.96,"y":36.16},
{"g":10,"x":-84.47,"y":34.85},{"g":10,"x":-83.28,"y":34.18},{"g":10,"x":-81.8,"y":33.93},
{"g":11,"x":-81.21,"y":33.93},{"g":11,"x":-79.85,"y":34.28},{"g":11,"x":-78.66,"y":35.01},{"g":11,"x":-78.13,"y":36.06},
{"g":12,"x":-84.84,"y":34.13},{"g":12,"x":-83.4,"y":33.48},{"g":12,"x":-81.86,"y":33.29},
{"g":13,"x":-81.06,"y":33.29},{"g":13,"x":-79.61,"y":33.58},{"g":13,"x":-77.95,"y":34.35},
{"g":14,"x":-77.66,"y":34.7},{"g":14,"x":-77.54,"y":34.94},
{"g":15,"x":-84.84,"y":32.9},{"g":15,"x":-83.69,"y":32.54},{"g":15,"x":-81.68,"y":32.11},{"g":15,"x":-81.15,"y":32.32},
{"g":16,"x":-80.2,"y":32.4},{"g":16,"x":-79.99,"y":32.5}],
"te":[{"x":-81.68,"y":35.6,"t":"0.8"},{"x":-81.53,"y":35.22,"t":"0.7"},{"x":-81.74,"y":34.87,"t":"0.6"},{"x":-81.53,"y":34.43,"t":"0.5"},{"x":-81.44,"y":33.93,"t":"0.4"},{"x":-81.44,"y":33.27,"t":"0.3"},{"x":-80.68,"y":32.35,"t":"0.2"}],
"lf":[
{"g":1,"x":-82.95,"y":35.53},{"g":1,"x":-82.75,"y":35.39},{"g":1,"x":-82.24,"y":35.53},
{"g":2,"x":-81.76,"y":35.92},{"g":2,"x":-81.47,"y":35.81},{"g":2,"x":-81.11,"y":35.95},
{"g":3,"x":-82.65,"y":35.15},{"g":3,"x":-82.24,"y":35.46},{"g":3,"x":-81.65,"y":35.5},{"g":3,"x":-80.76,"y":36.06},
{"g":4,"x":-83.95,"y":35.22},{"g":4,"x":-83.7,"y":35.18},
{"g":5,"x":-83.12,"y":35.06},{"g":5,"x":-82.75,"y":35.15},
{"g":6,"x":-84.49,"y":34.87},{"g":6,"x":-83.9,"y":34.8},
{"g":7,"x":-83.36,"y":34.73},{"g":7,"x":-83.07,"y":34.73},{"g":7,"x":-82.65,"y":35.08},{"g":7,"x":-82.06,"y":35.22},{"g":7,"x":-81.47,"y":35.5},{"g":7,"x":-80.7,"y":36.02},
{"g":8,"x":-83.24,"y":34.7},{"g":8,"x":-82.59,"y":35.05},{"g":8,"x":-81.94,"y":35.22},{"g":8,"x":-81.35,"y":35.46},{"g":8,"x":-80.64,"y":35.99},
{"g":9,"x":-83.18,"y":34.56},{"g":9,"x":-82.47,"y":34.84},{"g":9,"x":-82.12,"y":34.7},{"g":9,"x":-81.76,"y":34.87},{"g":9,"x":-80.76,"y":34.87},
{"g":10,"x":-84.84,"y":34.25},{"g":10,"x":-84.66,"y":34.42},{"g":10,"x":-83.89,"y":34.28},
{"g":11,"x":-83.36,"y":34.25},{"g":11,"x":-82.83,"y":34.49},
{"g":12,"x":-80.23,"y":35.92},{"g":12,"x":-79.93,"y":34.98},{"g":12,"x":-78.69,"y":35.67},{"g":12,"x":-78.98,"y":36.08},
{"g":13,"x":-80.76,"y":35.5},{"g":13,"x":-80.34,"y":35.32},{"g":13,"x":-80.38,"y":34.84},
{"g":14,"x":-80.76,"y":35.5},{"g":14,"x":-80.23,"y":35.92},
{"g":15,"x":-78.57,"y":36.16},{"g":15,"x":-78.22,"y":35.53},{"g":15,"x":-79.34,"y":35.12},{"g":15,"x":-79.75,"y":34.8},{"g":15,"x":-79.63,"y":34.28},{"g":15,"x":-80.17,"y":34.28},
{"g":16,"x":-80.64,"y":34.32},{"g":16,"x":-81.05,"y":33.9},{"g":16,"x":-81.35,"y":34.28},{"g":16,"x":-81.65,"y":34.36},{"g":16,"x":-82.65,"y":34.07},{"g":16,"x":-83.36,"y":33.86},{"g":16,"x":-84.72,"y":34.07},
{"g":17,"x":-77.8,"y":35.99},{"g":17,"x":-77.8,"y":35.53},
{"g":18,"x":-77.98,"y":34.84},{"g":18,"x":-77.62,"y":34.66},
{"g":19,"x":-79.58,"y":33.85},{"g":19,"x":-79.34,"y":34.98},{"g":19,"x":-78.92,"y":35.13},{"g":19,"x":-78.27,"y":34.63},{"g":19,"x":-78.69,"y":33.9},
{"g":20,"x":-80.23,"y":33.93},{"g":20,"x":-80.76,"y":33.97},{"g":20,"x":-80.94,"y":33.79},{"g":20,"x":-80.88,"y":33.03},{"g":20,"x":-81.41,"y":32.78},
{"g":21,"x":-82.65,"y":33},{"g":21,"x":-82.12,"y":33.31},{"g":21,"x":-81.71,"y":32.82},{"g":21,"x":-81.68,"y":32.4},{"g":21,"x":-82.65,"y":33},
{"g":22,"x":-84.72,"y":32.78},{"g":22,"x":-84.49,"y":33.44},{"g":22,"x":-84.01,"y":33.72},{"g":22,"x":-83.36,"y":33.31},{"g":22,"x":-81.94,"y":33.65},
{"g":23,"x":-84.9,"y":32.54},{"g":23,"x":-84.6,"y":32.61},
{"g":24,"x":-83.89,"y":32.54},{"g":24,"x":-82.89,"y":32.19},{"g":24,"x":-81.65,"y":31.46},{"g":24,"x":-81.41,"y":31.57},{"g":24,"x":-81.11,"y":32.33},{"g":24,"x":-79.93,"y":32.89},
{"g":25,"x":-77.5,"y":35.46},{"g":25,"x":-77.15,"y":35.71},{"g":25,"x":-77.03,"y":35.53}],
"tf":[{"x":-81.86,"y":35.66,"t":"0.8"},{"x":-83.42,"y":35.13,"t":"0.7"},{"x":-83.62,"y":34.77,"t":"0.6"},{"x":-82.24,"y":35.05,"t":"0.5"},{"x":-83.62,"y":34.23,"t":"0.4"},{"x":-80.46,"y":34.29,"t":"0.3"},{"x":-79.99,"y":33.9,"t":"0.2"},{"x":-78.04,"y":35.15,"t":"0.2"},{"x":-84.31,"y":32.61,"t":"0.1"}],
"s1":[{"x":-81.79,"y":33.35}],"s2":[{"x":-81.53,"y":35.94}],"s12":[{"x":-81.79,"y":33.35},{"x":-81.53,"y":35.94}],"pg":[{"x":-72.94,"y":31.0,"t":"28"}]},
"columns":2,"bounds":"flush","spacing":{"row":110,"column":174},
"concat":[
{"width":235,"height":253,"encoding":{"x":{"field":"x","type":"quantitative","scale":{"domain":[-85.14,-76.79],"nice":false,"zero":false},"axis":{"values":[-84,-82,-80,-78],"labelExpr":"'-'+(-datum.value)","title":"(a) Temperature (F)","titleX":-37,"titleY":62}},"y":{"field":"y","type":"quantitative","scale":{"domain":[31.12,36.39],"nice":false,"zero":false},"axis":{"values":[32,33,34,35,36],"labelAngle":-90,"labelAlign":"center","title":null}}},
"layer":[{"data":{"name":"grid"},"mark":{"type":"rect","width":12.3,"height":12.4},"encoding":{"color":{"field":"a","type":"quantitative","scale":{"domain":[71.95,73.43,76.39,79.36,82.32,83.8],"range":["#00008F","#0000FF","#00FFFF","#FFFF00","#FF0000","#800000"]},"legend":{"values":[72,74,76,78,80,82],"format":"d","legendX":260}}}},
{"data":{"name":"map"},"mark":{"type":"line","clip":true,"color":"#000","strokeWidth":1.3},"encoding":{"detail":{"field":"g"},"order":{"value":null}}},
{"data":{"name":"la"},"mark":{"type":"line","clip":true,"color":"#111","strokeWidth":0.9},"encoding":{"detail":{"field":"g"},"order":{"value":null}}},
{"data":{"name":"ta"},"mark":"text","encoding":{"text":{"field":"t"}}},
{"data":{"name":"s12"},"mark":{"type":"circle","size":55,"color":"#000","opacity":1}}]},
{"width":236,"height":253,"encoding":{"x":{"field":"x","type":"quantitative","scale":{"domain":[-85.14,-76.79],"nice":false,"zero":false},"axis":{"values":[-84,-82,-80,-78],"labelExpr":"'-'+(-datum.value)","title":"(b) Wind Speed (m/s)","titleX":-54,"titleY":62}},"y":{"field":"y","type":"quantitative","scale":{"domain":[31.12,36.39],"nice":false,"zero":false},"axis":{"values":[32,33,34,35,36],"labelAngle":-90,"labelAlign":"center","title":null}}},
"layer":[{"data":{"name":"grid"},"mark":{"type":"rect","width":12.3,"height":12.4},"encoding":{"color":{"field":"b","type":"quantitative","scale":{"domain":[3.24,4.82,7.97,11.12,14.27,15.85],"range":["#00008F","#0000FF","#00FFFF","#FFFF00","#FF0000","#800000"]},"legend":{"values":[4,6,8,10,12,14],"format":"d","legendX":261}}}},
{"data":{"name":"map"},"mark":{"type":"line","clip":true,"color":"#000","strokeWidth":1.3},"encoding":{"detail":{"field":"g"},"order":{"value":null}}},
{"data":{"name":"lb"},"mark":{"type":"line","clip":true,"color":"#111","strokeWidth":0.9},"encoding":{"detail":{"field":"g"},"order":{"value":null}}},
{"data":{"name":"tb"},"mark":"text","encoding":{"text":{"field":"t"}}},
{"data":{"name":"s12"},"mark":{"type":"circle","size":55,"color":"#000","opacity":1}}]},
{"width":235,"height":253,"encoding":{"x":{"field":"x","type":"quantitative","scale":{"domain":[-85.14,-76.79],"nice":false,"zero":false},"axis":{"values":[-84,-82,-80,-78],"labelExpr":"'-'+(-datum.value)","title":"(c) Spatial correlation, M = 1","titleX":-37,"titleY":61}},"y":{"field":"y","type":"quantitative","scale":{"domain":[31.12,36.39],"nice":false,"zero":false},"axis":{"values":[32,33,34,35,36],"labelAngle":-90,"labelAlign":"center","title":null}}},
"layer":[{"data":{"name":"grid"},"mark":{"type":"rect","width":12.3,"height":12.4},"encoding":{"color":{"field":"c","type":"quantitative","scale":{"domain":[0,0.125,0.375,0.625,0.875,1],"range":["#00008F","#0000FF","#00FFFF","#FFFF00","#FF0000","#800000"]},"legend":{"values":[0,0.2,0.4,0.6,0.8,1],"format":".1f","legendX":260}}}},
{"data":{"name":"map"},"mark":{"type":"line","clip":true,"color":"#000","strokeWidth":1.3},"encoding":{"detail":{"field":"g"},"order":{"value":null}}},
{"data":{"name":"lc"},"mark":{"type":"line","clip":true,"color":"#111","strokeWidth":0.9},"encoding":{"detail":{"field":"g"},"order":{"value":null}}},
{"data":{"name":"tc"},"mark":"text","encoding":{"text":{"field":"t"}}},
{"data":{"name":"s1"},"mark":{"type":"circle","size":55,"color":"#000","opacity":1}}]},
{"width":236,"height":253,"encoding":{"x":{"field":"x","type":"quantitative","scale":{"domain":[-85.14,-76.79],"nice":false,"zero":false},"axis":{"values":[-84,-82,-80,-78],"labelExpr":"'-'+(-datum.value)","title":"(d) Spatial correlation, M = 5","titleX":-54,"titleY":61}},"y":{"field":"y","type":"quantitative","scale":{"domain":[31.12,36.39],"nice":false,"zero":false},"axis":{"values":[32,33,34,35,36],"labelAngle":-90,"labelAlign":"center","title":null}}},
"layer":[{"data":{"name":"grid"},"mark":{"type":"rect","width":12.3,"height":12.4},"encoding":{"color":{"field":"d","type":"quantitative","scale":{"domain":[0,0.125,0.375,0.625,0.875,1],"range":["#00008F","#0000FF","#00FFFF","#FFFF00","#FF0000","#800000"]},"legend":{"values":[0,0.2,0.4,0.6,0.8,1],"format":".1f","legendX":261}}}},
{"data":{"name":"map"},"mark":{"type":"line","clip":true,"color":"#000","strokeWidth":1.3},"encoding":{"detail":{"field":"g"},"order":{"value":null}}},
{"data":{"name":"ld"},"mark":{"type":"line","clip":true,"color":"#111","strokeWidth":0.9},"encoding":{"detail":{"field":"g"},"order":{"value":null}}},
{"data":{"name":"td"},"mark":"text","encoding":{"text":{"field":"t"}}},
{"data":{"name":"s1"},"mark":{"type":"circle","size":55,"color":"#000","opacity":1}}]},
{"width":235,"height":253,"encoding":{"x":{"field":"x","type":"quantitative","scale":{"domain":[-85.14,-76.79],"nice":false,"zero":false},"axis":{"values":[-84,-82,-80,-78],"labelExpr":"'-'+(-datum.value)","title":"(e) Spatial correlation, M = 1","titleX":-37,"titleY":61}},"y":{"field":"y","type":"quantitative","scale":{"domain":[31.12,36.39],"nice":false,"zero":false},"axis":{"values":[32,33,34,35,36],"labelAngle":-90,"labelAlign":"center","title":null}}},
"layer":[{"data":{"name":"grid"},"mark":{"type":"rect","width":12.3,"height":12.4},"encoding":{"color":{"field":"e","type":"quantitative","scale":{"domain":[0,0.125,0.375,0.625,0.875,1],"range":["#00008F","#0000FF","#00FFFF","#FFFF00","#FF0000","#800000"]},"legend":{"values":[0,0.2,0.4,0.6,0.8,1],"format":".1f","legendX":260}}}},
{"data":{"name":"map"},"mark":{"type":"line","clip":true,"color":"#000","strokeWidth":1.3},"encoding":{"detail":{"field":"g"},"order":{"value":null}}},
{"data":{"name":"le"},"mark":{"type":"line","clip":true,"color":"#111","strokeWidth":0.9},"encoding":{"detail":{"field":"g"},"order":{"value":null}}},
{"data":{"name":"te"},"mark":"text","encoding":{"text":{"field":"t"}}},
{"data":{"name":"pg"},"mark":{"type":"text","font":"Liberation Serif","fontSize":19},"encoding":{"text":{"field":"t"}}},
{"data":{"name":"s2"},"mark":{"type":"circle","size":55,"color":"#000","opacity":1}}]},
{"width":236,"height":253,"encoding":{"x":{"field":"x","type":"quantitative","scale":{"domain":[-85.14,-76.79],"nice":false,"zero":false},"axis":{"values":[-84,-82,-80,-78],"labelExpr":"'-'+(-datum.value)","title":"(f) Spatial correlation, M = 5","titleX":-54,"titleY":61}},"y":{"field":"y","type":"quantitative","scale":{"domain":[31.12,36.39],"nice":false,"zero":false},"axis":{"values":[32,33,34,35,36],"labelAngle":-90,"labelAlign":"center","title":null}}},
"layer":[{"data":{"name":"grid"},"mark":{"type":"rect","width":12.3,"height":12.4},"encoding":{"color":{"field":"f","type":"quantitative","scale":{"domain":[0,0.125,0.375,0.625,0.875,1],"range":["#00008F","#0000FF","#00FFFF","#FFFF00","#FF0000","#800000"]},"legend":{"values":[0,0.2,0.4,0.6,0.8,1],"format":".1f","legendX":261}}}},
{"data":{"name":"map"},"mark":{"type":"line","clip":true,"color":"#000","strokeWidth":1.3},"encoding":{"detail":{"field":"g"},"order":{"value":null}}},
{"data":{"name":"lf"},"mark":{"type":"line","clip":true,"color":"#111","strokeWidth":0.9},"encoding":{"detail":{"field":"g"},"order":{"value":null}}},
{"data":{"name":"tf"},"mark":"text","encoding":{"text":{"field":"t"}}},
{"data":{"name":"s2"},"mark":{"type":"circle","size":55,"color":"#000","opacity":1}}]}
]}
